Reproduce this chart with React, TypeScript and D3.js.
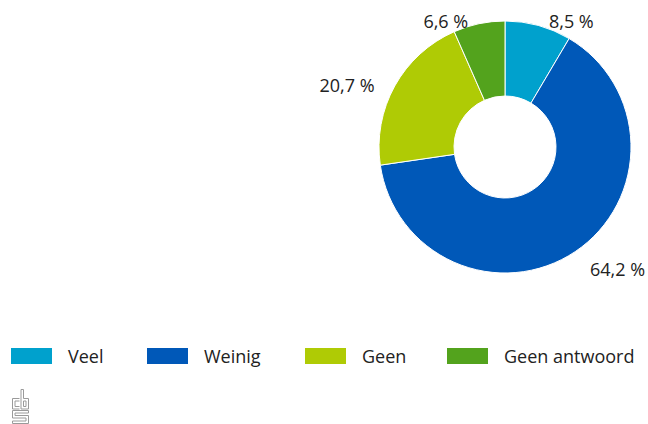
import * as d3 from "d3";
import { useRef, useEffect } from "react";

const categories = ["Veel", "Weinig", "Geen", "Geen antwoord"];
const values = [8.5, 64.2, 20.7, 6.6];
const colors = ["#00a1cd", "#0058b8", "#afcb05", "#53a31d"];

const FONT = "'Open Sans', sans-serif";

export default function App() {
  const ref = useRef<SVGSVGElement>(null);
  const width = 648;
  const height = 424;

  useEffect(() => {
    const svg = d3.select(ref.current);
    svg.selectAll("*").remove();

    const cx = 505;
    const cy = 147;
    const outer = 126;
    const inner = 51;

    const data = categories.map((c, i) => ({ label: c, value: values[i], color: colors[i] }));

    const pie = d3
      .pie<any>()
      .sort(null)
      .value((d) => d.value);
    const arcs = pie(data);

    const arc = d3.arc<any>().innerRadius(inner).outerRadius(outer);
    const labelArc = d3.arc<any>().innerRadius(140).outerRadius(140);

    const g = svg.append("g").attr("transform", `translate(${cx},${cy})`);

    g.selectAll("path")
      .data(arcs)
      .join("path")
      .attr("d", arc)
      .attr("fill", (d) => d.data.color)
      .attr("stroke", "#fff")
      .attr("stroke-width", 1);

    // Labels
    const right = (d: any) => (d.startAngle + d.endAngle) / 2 < Math.PI;
    g.selectAll("text")
      .data(arcs)
      .join("text")
      .attr("font-family", FONT)
      .attr("font-size", 18)
      .attr("fill", "#222")
      .attr("dominant-baseline", "central")
      .attr("text-anchor", (d) => (right(d) ? "start" : "end"))
      .attr("x", (d) => labelArc.centroid(d)[0] + (right(d) ? 7 : -8))
      .attr("y", (d) => Math.max(labelArc.centroid(d)[1] + 6, 21 - cy))
      .text((d) => `${String(d.data.value).replace(".", ",")} %`);

    // Legend
    const legendX = d3.scaleOrdinal<string, number>().domain(categories).range([11, 147, 305, 447]);
    const lg = svg
      .append("g")
      .selectAll("g")
      .data(data)
      .join("g")
      .attr("transform", (d) => `translate(${legendX(d.label)},348)`);
    lg.append("rect").attr("width", 41).attr("height", 16).attr("fill", (d) => d.color);
    lg.append("text")
      .attr("x", 57)
      .attr("y", 15)
      .attr("font-family", FONT)
      .attr("font-size", 18)
      .attr("fill", "#222")
      .text((d) => d.label);

    // CBS logo
    const logo = svg
      .append("g")
      .attr("transform", "translate(12.5,389.5)")
      .attr("fill", "none")
      .attr("stroke", "#9a9a9a")
      .attr("stroke-width", 1);
    logo.append("path").attr("d", "M7,9 H0 V19.5 H7 M7,11.5 H2.5 V17 H7");
    logo.append("path").attr("d", "M8.5,0 V19.5 H16 V9 H11 V0 Z M11,11.5 H13.5 V17 H11 Z");
    logo.append("path").attr("d", "M16,21 H0 V28.5 H13.5 V31.5 H0 V34 H16 V26 H2.5 V23.5 H16 Z");
  }, []);

  return (
    <svg ref={ref} width={width} height={height} style={{ display: "block", position: "absolute", left: 0, top: 0 }} />
  );
}
